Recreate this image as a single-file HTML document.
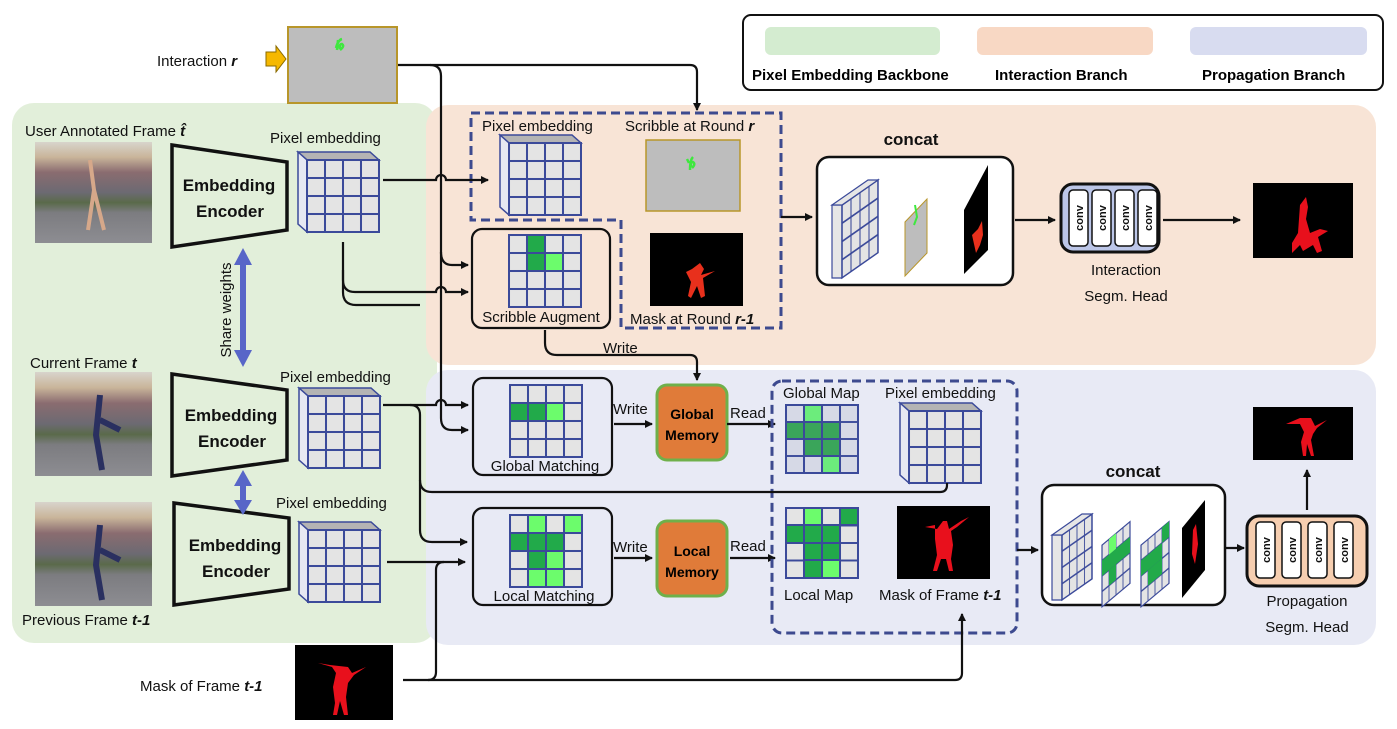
<!DOCTYPE html>
<html><head><meta charset="utf-8"><style>
html,body{margin:0;padding:0;background:#fff}
svg{display:block;font-family:"Liberation Sans",sans-serif}
.l{font-size:15px;fill:#111}
.b{font-size:17px;font-weight:bold;fill:#111}
.w{fill:none;stroke:#111;stroke-width:2.2}
</style></head><body>
<svg width="1397" height="729" viewBox="0 0 1397 729" xmlns="http://www.w3.org/2000/svg">
<defs>
<pattern id="g" width="0.25" height="0.25" patternUnits="objectBoundingBox" patternContentUnits="objectBoundingBox"><rect width="0.25" height="0.25" fill="#e4e4e4" stroke="#3b4a9a" stroke-width="0.028"/></pattern>
<pattern id="gb" width="0.25" height="0.25" patternUnits="objectBoundingBox" patternContentUnits="objectBoundingBox"><rect width="0.25" height="0.25" fill="#d6d9e6" stroke="#3b4a9a" stroke-width="0.028"/></pattern>
<marker id="a" markerWidth="8" markerHeight="8" refX="7" refY="4" orient="auto" markerUnits="userSpaceOnUse"><path d="M0,0 L8,4 L0,8z" fill="#111"/></marker>
<linearGradient id="ph" x1="0" y1="0" x2="0" y2="1"><stop offset="0" stop-color="#d8d4cc"/><stop offset="0.15" stop-color="#c9b59a"/><stop offset="0.3" stop-color="#8a6c70"/><stop offset="0.5" stop-color="#6c6a72"/><stop offset="0.6" stop-color="#5a6a4a"/><stop offset="0.7" stop-color="#7c7c80"/><stop offset="1" stop-color="#8d8d92"/></linearGradient>
<g id="cube"><polygon points="0,0 72,0 81,8 9,8" fill="#b4b4b4" stroke="#3b4a9a" stroke-width="1.5"/><polygon points="0,0 9,8 9,80 0,72" fill="#e6e8f2" stroke="#3b4a9a" stroke-width="1.5"/><rect x="9" y="8" width="72" height="72" fill="url(#g)" stroke="#3b4a9a" stroke-width="2"/></g>
<g id="conv"><rect width="19" height="56" rx="4" fill="#fff" stroke="#111" stroke-width="1.5"/><text transform="translate(14,28) rotate(-90)" text-anchor="middle" font-size="11" font-weight="bold" fill="#111">conv</text></g>
</defs>

<rect x="12" y="103" width="425" height="540" rx="22" fill="#e2efda"/>
<rect x="426" y="105" width="950" height="260" rx="22" fill="#f8e4d6"/>
<rect x="426" y="370" width="950" height="275" rx="22" fill="#e8eaf5"/>

<rect x="743" y="15" width="640" height="75" rx="8" fill="#fff" stroke="#111" stroke-width="2"/>
<rect x="765" y="27" width="175" height="28" rx="6" fill="#d4ecd0"/>
<rect x="977" y="27" width="176" height="28" rx="6" fill="#f8d8c4"/>
<rect x="1190" y="27" width="177" height="28" rx="6" fill="#d8dcf0"/>
<text x="752" y="80" font-size="15" font-weight="bold">Pixel Embedding Backbone</text>
<text x="995" y="80" font-size="15" font-weight="bold">Interaction Branch</text>
<text x="1202" y="80" font-size="15" font-weight="bold">Propagation Branch</text>

<text x="157" y="66" class="l">Interaction <tspan font-weight="bold" font-style="italic">r</tspan></text>
<polygon points="266,52 276,52 276,46 286,59 276,72 276,66 266,66" fill="#f5b800" stroke="#8a6a00" stroke-width="1"/>
<rect x="288" y="27" width="109" height="76" fill="#bdbdbd" stroke="#b8962a" stroke-width="2"/>
<path d="M336,48 q2,-8 6,-9 M338,40 l-1,10 M340,50 q5,-4 2,-6 q-3,0 -2,5" stroke="#3ee83e" stroke-width="2.5" fill="none"/>

<rect x="35" y="142" width="117" height="101" fill="url(#ph)"/>
<rect x="35" y="372" width="117" height="104" fill="url(#ph)"/>
<rect x="35" y="502" width="117" height="104" fill="url(#ph)"/>
<path d="M90,160 l4,30 l-6,40 M94,190 l10,40" stroke="#d6a88a" stroke-width="4" fill="none"/>
<path d="M100,395 l-4,40 l6,35 M100,420 l20,10" stroke="#2a3060" stroke-width="6" fill="none"/>
<path d="M100,525 l-4,40 l6,35 M100,550 l20,10" stroke="#2a3060" stroke-width="6" fill="none"/>
<text x="25" y="136" class="l">User Annotated Frame <tspan font-weight="bold" font-style="italic">t̂</tspan></text>
<text x="30" y="368" class="l">Current Frame <tspan font-weight="bold" font-style="italic">t</tspan></text>
<text x="22" y="625" class="l">Previous Frame <tspan font-weight="bold" font-style="italic">t-1</tspan></text>

<polygon points="172,145 287,162 287,230 172,247" fill="none" stroke="#111" stroke-width="3.5"/>
<text x="229" y="191" class="b" text-anchor="middle">Embedding</text><text x="230" y="217" class="b" text-anchor="middle">Encoder</text>
<polygon points="172,374 287,390 287,460 172,476" fill="none" stroke="#111" stroke-width="3.5"/>
<text x="231" y="421" class="b" text-anchor="middle">Embedding</text><text x="232" y="447" class="b" text-anchor="middle">Encoder</text>
<polygon points="174,503 289,518 289,589 174,605" fill="none" stroke="#111" stroke-width="3.5"/>
<text x="235" y="551" class="b" text-anchor="middle">Embedding</text><text x="236" y="577" class="b" text-anchor="middle">Encoder</text>

<line x1="243" y1="262" x2="243" y2="352" stroke="#5866c8" stroke-width="6"/>
<polygon points="234,265 243,248 252,265" fill="#5866c8"/><polygon points="234,350 243,367 252,350" fill="#5866c8"/>
<text transform="translate(231,310) rotate(-90)" text-anchor="middle" class="l">Share weights</text>
<line x1="243" y1="484" x2="243" y2="503" stroke="#5866c8" stroke-width="6"/>
<polygon points="234,486 243,470 252,486" fill="#5866c8"/><polygon points="234,500 243,515 252,500" fill="#5866c8"/>

<text x="270" y="143" class="l">Pixel embedding</text>
<use href="#cube" x="298" y="152"/>
<text x="280" y="382" class="l">Pixel embedding</text>
<use href="#cube" x="299" y="388"/>
<text x="276" y="508" class="l">Pixel embedding</text>
<use href="#cube" x="299" y="522"/>

<path d="M471,113 H781 V328 H621 V220 H471 Z" fill="none" stroke="#3d4a8f" stroke-width="3" stroke-dasharray="9,5"/>
<text x="482" y="131" class="l">Pixel embedding</text>
<use href="#cube" x="500" y="135"/>
<text x="625" y="131" class="l">Scribble at Round <tspan font-weight="bold" font-style="italic">r</tspan></text>
<rect x="646" y="140" width="94" height="71" fill="#bdbdbd" stroke="#b8962a" stroke-width="1.5"/>
<path d="M689,163 l-2,-4 M690,170 q0,-10 3,-13 M692,168 q4,-4 1,-6 q-3,0 -2,5" stroke="#3ee83e" stroke-width="2.5" fill="none"/>
<rect x="650" y="233" width="93" height="73" fill="#000"/>
<path d="M686,272 l6,-3 l8,-6 l4,6 l-3,6 l14,-4 l-12,7 l2,18 l-4,2 l-4,-12 l-6,12 l-3,-2 l3,-14 z" fill="#e8301c"/>
<text x="630" y="324" class="l">Mask at Round <tspan font-weight="bold" font-style="italic">r-1</tspan></text>
<rect x="472" y="229" width="138" height="99" rx="10" fill="none" stroke="#111" stroke-width="2.2"/>
<rect x="509" y="235" width="72" height="72" fill="url(#g)"/>
<rect x="527" y="235" width="18" height="18" fill="#22aa4a" stroke="#3b4a9a" stroke-width="2"/>
<rect x="527" y="253" width="18" height="18" fill="#22aa4a" stroke="#3b4a9a" stroke-width="2"/>
<rect x="545" y="253" width="18" height="18" fill="#6cfc6c" stroke="#3b4a9a" stroke-width="2"/>
<rect x="509" y="235" width="72" height="72" fill="none" stroke="#3b4a9a" stroke-width="2"/>
<text x="541" y="322" class="l" text-anchor="middle">Scribble Augment</text>

<text x="911" y="145" class="b" text-anchor="middle" font-size="19">concat</text>
<rect x="817" y="157" width="196" height="128" rx="12" fill="#fff" stroke="#111" stroke-width="2.5"/>
<polygon points="832,205 842,205 842,278 832,278" fill="#e6e6e6" stroke="#3b4a9a" stroke-width="1.2"/>
<g transform="translate(842,205) skewY(-35)"><rect width="36" height="73" fill="url(#g)" stroke="#3b4a9a" stroke-width="1.5"/></g>
<polygon points="832,205 868,180 878,180 842,205" fill="#e6e6e6" stroke="#3b4a9a" stroke-width="1.2"/>
<polygon points="905,222 927,199 927,253 905,276" fill="#bdbdbd" stroke="#b8962a" stroke-width="1"/>
<path d="M915,205 l2,12 l-3,8" stroke="#3ee83e" stroke-width="2" fill="none"/>
<polygon points="964,210 988,165 988,250 964,274" fill="#000"/>
<path d="M972,235 l6,-6 l4,-8 l1,14 l-3,10 l-4,8 z" fill="#e8301c"/>
<line x1="781" y1="217" x2="812" y2="217" stroke="#111" stroke-width="2.2" marker-end="url(#a)"/>
<line x1="1015" y1="220" x2="1055" y2="220" stroke="#111" stroke-width="2.2" marker-end="url(#a)"/>
<rect x="1061" y="184" width="98" height="68" rx="12" fill="#bcc6e8" stroke="#111" stroke-width="3"/>
<use href="#conv" x="1069" y="190"/><use href="#conv" x="1092" y="190"/><use href="#conv" x="1115" y="190"/><use href="#conv" x="1138" y="190"/>
<text x="1126" y="275" class="l" text-anchor="middle" font-size="16">Interaction</text>
<text x="1126" y="301" class="l" text-anchor="middle" font-size="16">Segm. Head</text>
<line x1="1163" y1="220" x2="1240" y2="220" stroke="#111" stroke-width="2.2" marker-end="url(#a)"/>
<rect x="1253" y="183" width="100" height="75" fill="#000"/>
<path d="M1300,205 l6,-8 l2,10 l-2,12 l4,14 l10,-4 l8,2 l-10,6 l4,14 l-5,2 l-4,-8 l-10,6 l-3,-6 l-8,8 l0,-10 l6,-10 z" fill="#e8101c"/>

<rect x="473" y="378" width="139" height="97" rx="10" fill="none" stroke="#111" stroke-width="2.2"/>
<rect x="510" y="385" width="72" height="72" fill="url(#g)"/>
<rect x="510" y="403" width="18" height="18" fill="#22aa4a" stroke="#3b4a9a" stroke-width="2"/>
<rect x="528" y="403" width="18" height="18" fill="#22aa4a" stroke="#3b4a9a" stroke-width="2"/>
<rect x="546" y="403" width="18" height="18" fill="#6cfc6c" stroke="#3b4a9a" stroke-width="2"/>
<rect x="510" y="385" width="72" height="72" fill="none" stroke="#3b4a9a" stroke-width="2"/>
<text x="545" y="471" class="l" text-anchor="middle">Global Matching</text>
<rect x="473" y="508" width="139" height="97" rx="10" fill="none" stroke="#111" stroke-width="2.2"/>
<rect x="510" y="515" width="72" height="72" fill="url(#g)"/>
<g stroke="#3b4a9a" stroke-width="2">
<rect x="528" y="515" width="18" height="18" fill="#6cfc6c"/><rect x="564" y="515" width="18" height="18" fill="#6cfc6c"/>
<rect x="510" y="533" width="18" height="18" fill="#22aa4a"/><rect x="528" y="533" width="18" height="18" fill="#22aa4a"/><rect x="546" y="533" width="18" height="18" fill="#22aa4a"/>
<rect x="528" y="551" width="18" height="18" fill="#22aa4a"/><rect x="546" y="551" width="18" height="18" fill="#6cfc6c"/>
<rect x="528" y="569" width="18" height="18" fill="#6cfc6c"/><rect x="546" y="569" width="18" height="18" fill="#6cfc6c"/>
<rect x="510" y="515" width="72" height="72" fill="none"/>
</g>
<text x="544" y="601" class="l" text-anchor="middle">Local Matching</text>
<text x="613" y="414" class="l">Write</text>
<line x1="614" y1="424" x2="652" y2="424" stroke="#111" stroke-width="2.2" marker-end="url(#a)"/>
<rect x="657" y="385" width="70" height="75" rx="10" fill="#e07b39" stroke="#6fb04a" stroke-width="3"/>
<text x="692" y="419" text-anchor="middle" font-size="14" font-weight="bold">Global</text>
<text x="692" y="440" text-anchor="middle" font-size="14" font-weight="bold">Memory</text>
<text x="730" y="418" class="l">Read</text>
<line x1="727" y1="424" x2="775" y2="424" stroke="#111" stroke-width="2.2" marker-end="url(#a)"/>
<text x="613" y="552" class="l">Write</text>
<line x1="614" y1="558" x2="652" y2="558" stroke="#111" stroke-width="2.2" marker-end="url(#a)"/>
<rect x="657" y="521" width="70" height="75" rx="10" fill="#e07b39" stroke="#6fb04a" stroke-width="3"/>
<text x="692" y="556" text-anchor="middle" font-size="14" font-weight="bold">Local</text>
<text x="692" y="577" text-anchor="middle" font-size="14" font-weight="bold">Memory</text>
<text x="730" y="551" class="l">Read</text>
<line x1="730" y1="558" x2="775" y2="558" stroke="#111" stroke-width="2.2" marker-end="url(#a)"/>

<rect x="772" y="381" width="245" height="252" rx="10" fill="none" stroke="#3d4a8f" stroke-width="3" stroke-dasharray="9,5"/>
<text x="783" y="398" class="l">Global Map</text>
<rect x="786" y="405" width="72" height="68" fill="url(#gb)"/>
<g stroke="#3b4a9a" stroke-width="2">
<rect x="804" y="405" width="18" height="17" fill="#6cec7c"/>
<rect x="786" y="422" width="18" height="17" fill="#3aa55a"/><rect x="804" y="422" width="18" height="17" fill="#3aa55a"/><rect x="822" y="422" width="18" height="17" fill="#3aa55a"/>
<rect x="804" y="439" width="18" height="17" fill="#3aa55a"/><rect x="822" y="439" width="18" height="17" fill="#3aa55a"/>
<rect x="822" y="456" width="18" height="17" fill="#6cec7c"/>
<rect x="786" y="405" width="72" height="68" fill="none"/>
</g>
<text x="885" y="398" class="l">Pixel embedding</text>
<use href="#cube" x="900" y="403"/>
<rect x="786" y="508" width="72" height="70" fill="url(#g)"/>
<g stroke="#3b4a9a" stroke-width="2">
<rect x="804" y="508" width="18" height="17" fill="#6cfc6c"/><rect x="840" y="508" width="18" height="17" fill="#22aa4a"/>
<rect x="786" y="525" width="18" height="18" fill="#22aa4a"/><rect x="804" y="525" width="18" height="18" fill="#22aa4a"/><rect x="822" y="525" width="18" height="18" fill="#22aa4a"/>
<rect x="804" y="543" width="18" height="17" fill="#22aa4a"/><rect x="822" y="543" width="18" height="17" fill="#22aa4a"/>
<rect x="804" y="560" width="18" height="18" fill="#22aa4a"/><rect x="822" y="560" width="18" height="18" fill="#6cfc6c"/>
<rect x="786" y="508" width="72" height="70" fill="none"/>
</g>
<text x="784" y="600" class="l">Local Map</text>
<rect x="897" y="506" width="93" height="73" fill="#000"/>
<path d="M935,525 l-10,2 l12,2 l6,-8 l4,0 l2,8 l12,-8 l8,-4 l-12,10 l-6,4 l2,14 l-2,14 l2,12 l-4,0 l-3,-12 l-5,0 l-4,12 l-4,0 l4,-16 l-2,-16 z" fill="#e8101c"/>
<text x="879" y="600" class="l">Mask of Frame <tspan font-weight="bold" font-style="italic">t-1</tspan></text>

<text x="1133" y="477" class="b" text-anchor="middle" font-size="19">concat</text>
<rect x="1042" y="485" width="183" height="120" rx="12" fill="#fff" stroke="#111" stroke-width="2.5"/>
<polygon points="1052,535 1062,535 1062,600 1052,600" fill="#e6e6e6" stroke="#3b4a9a" stroke-width="1.2"/>
<g transform="translate(1062,535) skewY(-35)"><rect width="30" height="65" fill="url(#g)" stroke="#3b4a9a" stroke-width="1.5"/></g>
<polygon points="1052,535 1082,514 1092,514 1062,535" fill="#e6e6e6" stroke="#3b4a9a" stroke-width="1.2"/>
<g transform="translate(1102,545) skewY(-40)"><rect width="28" height="62" fill="url(#g)" stroke="#3b4a9a" stroke-width="1.2"/><rect x="0" y="15.5" width="28" height="15.5" fill="#22aa4a"/><rect x="7" y="31" width="7" height="15.5" fill="#22aa4a"/><rect x="7" y="0" width="7" height="15.5" fill="#6cfc6c"/></g>
<g transform="translate(1141,545) skewY(-40)"><rect width="28" height="62" fill="url(#g)" stroke="#3b4a9a" stroke-width="1.2"/><rect x="0" y="15.5" width="21" height="15.5" fill="#22aa4a"/><rect x="7" y="31" width="14" height="15.5" fill="#22aa4a"/><rect x="21" y="0" width="7" height="15.5" fill="#22aa4a"/></g>
<polygon points="1182,528 1205,500 1205,570 1182,598" fill="#000"/>
<path d="M1193,530 l3,-6 l2,20 l-3,20 l-3,-10 z" fill="#e8101c"/>
<line x1="1017" y1="550" x2="1038" y2="550" stroke="#111" stroke-width="2.2" marker-end="url(#a)"/>
<line x1="1225" y1="548" x2="1244" y2="548" stroke="#111" stroke-width="2.2" marker-end="url(#a)"/>
<rect x="1247" y="516" width="120" height="70" rx="12" fill="#f6ceb0" stroke="#111" stroke-width="3"/>
<use href="#conv" x="1256" y="522"/><use href="#conv" x="1282" y="522"/><use href="#conv" x="1308" y="522"/><use href="#conv" x="1334" y="522"/>
<text x="1307" y="606" class="l" text-anchor="middle" font-size="17">Propagation</text>
<text x="1307" y="632" class="l" text-anchor="middle" font-size="17">Segm. Head</text>
<line x1="1307" y1="510" x2="1307" y2="470" stroke="#111" stroke-width="2.2" marker-end="url(#a)"/>
<rect x="1253" y="407" width="100" height="53" fill="#000"/>
<path d="M1300,418 l-14,6 l14,0 l4,8 l-3,10 l2,14 l3,0 l1,-12 l4,12 l3,0 l-3,-16 l2,-6 l4,-6 l10,-8 l-12,6 l-4,-8 z" fill="#e8101c"/>

<text x="140" y="691" class="l">Mask of Frame <tspan font-weight="bold" font-style="italic">t-1</tspan></text>
<rect x="295" y="645" width="98" height="75" fill="#000"/>
<path d="M330,665 l-12,-2 l14,4 l4,6 l-3,14 l2,16 l-2,12 l4,0 l3,-14 l4,14 l4,0 l-2,-18 l2,-14 l6,-8 l12,-8 l-14,6 l-4,-6 z" fill="#e8101c"/>

<path class="w" d="M398,65 H430 Q441,65 441,76 V418 Q441,430 452,430 H468" marker-end="url(#a)"/>
<path class="w" d="M430,65 H690 Q697,65 697,72 V110" marker-end="url(#a)"/>
<path class="w" d="M441,252 Q441,265 452,265 H468" marker-end="url(#a)"/>
<path class="w" d="M383,180 H436 a5,5 0 0 1 10,0 H488" marker-end="url(#a)"/>
<path class="w" d="M343,242 V280 Q343,292 355,292 H436 a5,5 0 0 1 10,0 H468" marker-end="url(#a)"/>
<path class="w" d="M343,270 V292 Q343,305 356,305 H420"/>
<path class="w" d="M545,330 V343 Q545,355 557,355 H690 Q697,355 697,362 V380" marker-end="url(#a)"/>
<text x="603" y="353" class="l">Write</text>
<path class="w" d="M383,405 H436 a5,5 0 0 1 10,0 H468" marker-end="url(#a)"/>
<path class="w" d="M410,405 Q420,405 420,415 V530 Q420,542 432,542 H467" marker-end="url(#a)"/>
<path class="w" d="M420,480 Q420,492 432,492 H940 Q947,492 947,485 V483"/>
<path class="w" d="M387,562 H465" marker-end="url(#a)"/>
<path class="w" d="M403,680 H428 Q436,680 436,672 V570 Q436,562 444,562"/>
<path class="w" d="M428,680 H955 Q962,680 962,673 V614" marker-end="url(#a)"/>
</svg>
</body></html>
